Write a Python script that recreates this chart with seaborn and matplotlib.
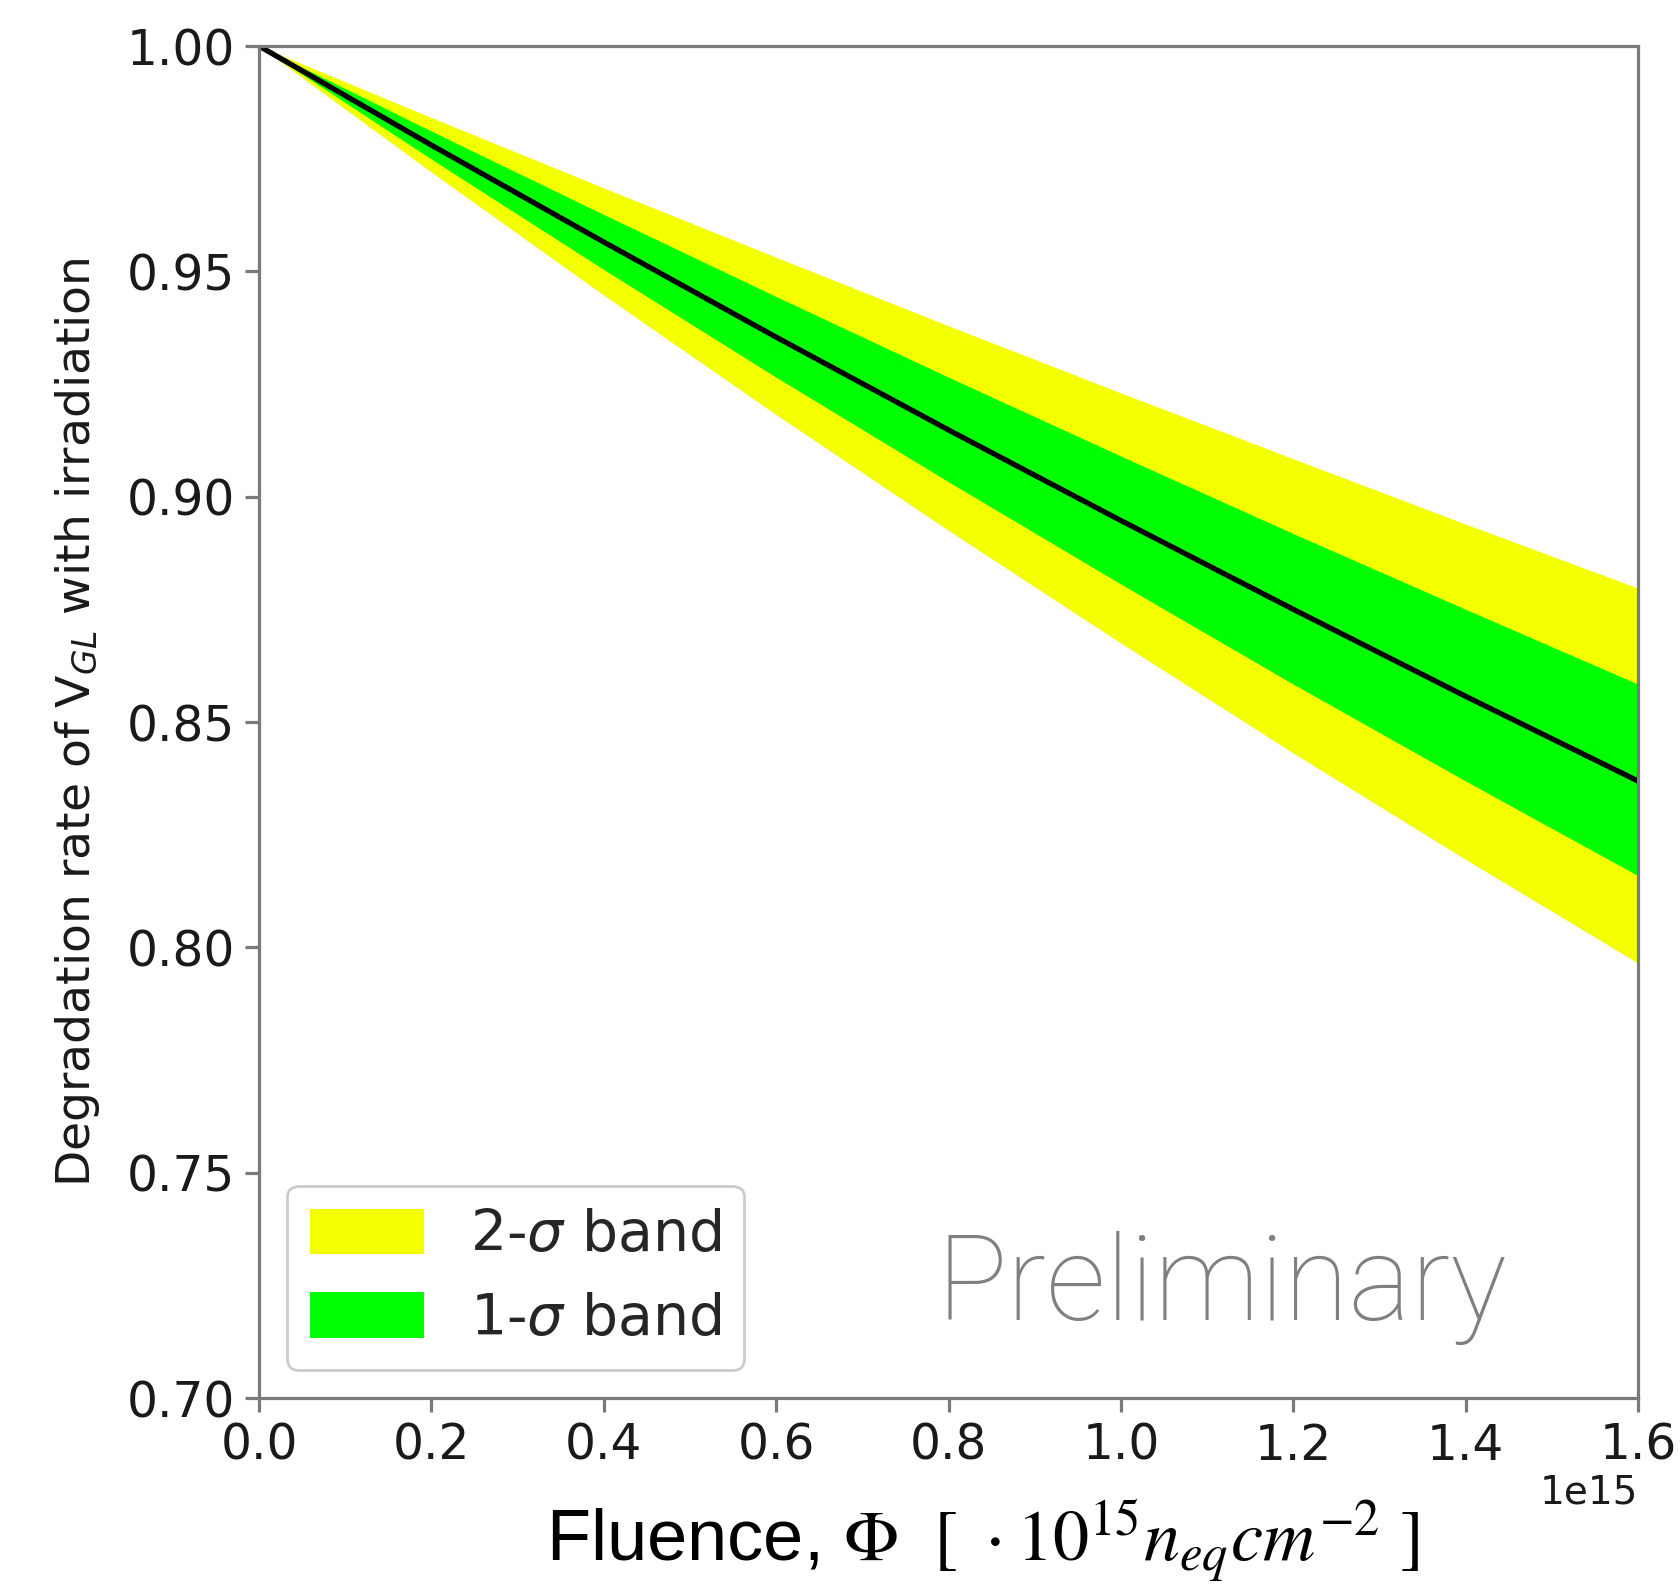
import matplotlib
matplotlib.use("Agg")
import matplotlib.pyplot as plt
import seaborn as sns

# Fluence points (n_eq / cm^2) and the fitted degradation rate of V_GL
fluence = [0.0, 0.2e15, 0.4e15, 0.6e15, 0.8e15, 1.0e15, 1.2e15, 1.4e15, 1.6e15]
central = [1.000, 0.9780, 0.9565, 0.9354, 0.9148, 0.8947, 0.8750, 0.8557, 0.8369]
one_sigma_hi = [1.000, 0.9811, 0.9626, 0.9444, 0.9265, 0.9090, 0.8918, 0.8750, 0.8584]
one_sigma_lo = [1.000, 0.9749, 0.9504, 0.9265, 0.9033, 0.8806, 0.8584, 0.8369, 0.8159]
two_sigma_hi = [1.000, 0.9841, 0.9685, 0.9531, 0.9379, 0.9230, 0.9084, 0.8939, 0.8797]
two_sigma_lo = [1.000, 0.9720, 0.9447, 0.9182, 0.8925, 0.8675, 0.8431, 0.8195, 0.7965]

x_ticks = [0.0, 0.2e15, 0.4e15, 0.6e15, 0.8e15, 1.0e15, 1.2e15, 1.4e15, 1.6e15]
y_ticks = [0.70, 0.75, 0.80, 0.85, 0.90, 0.95, 1.00]

YELLOW = "#f4ff00"
GREEN = "#00ff00"
SPINE = "#7a7a7a"

sns.set_theme(style="ticks")
plt.rcParams["font.family"] = ["DejaVu Sans"]

W, H = 1680, 1586
fig = plt.figure(figsize=(W / 100, H / 100), dpi=100)
ax = fig.add_axes([259 / W, 1 - 1398 / H, (1638 - 259) / W, (1398 - 46) / H])

ax.fill_between(fluence, two_sigma_lo, two_sigma_hi, color=YELLOW, lw=0,
                label="2-$\\sigma$ band")
ax.fill_between(fluence, one_sigma_lo, one_sigma_hi, color=GREEN, lw=0,
                label="1-$\\sigma$ band")
sns.lineplot(x=fluence, y=central, color="black", lw=3.8, ax=ax, legend=False)

ax.set_xlim(0, 1.6e15)
ax.set_ylim(0.70, 1.00)
ax.set_xticks(x_ticks)
ax.set_yticks(y_ticks)
ax.yaxis.set_major_formatter(matplotlib.ticker.FormatStrFormatter("%.2f"))

for s in ax.spines.values():
    s.set_color(SPINE)
    s.set_linewidth(2.3)
    s.set_visible(True)
ax.tick_params(axis="both", colors=SPINE, length=10, width=2.3, pad=7,
               labelsize=35, labelcolor="#1a1a1a")
ax.xaxis.get_offset_text().set_fontsize(28)
ax.xaxis.get_offset_text().set_color("#1a1a1a")

ax.set_ylabel("Degradation rate of V$_{GL}$ with irradiation", fontsize=34,
              color="#1a1a1a", labelpad=18)

ax.set_xlabel(r"Fluence, $\Phi\ \ [\ \cdot 10^{15}n_{eq}cm^{-2}\ ]$",
              fontsize=52, family="Liberation Sans", math_fontfamily="stix",
              color="black")
ax.xaxis.set_label_coords(0.525, -0.121)
ax.xaxis.label.set_va("baseline")

ax.text(0.491, 0.058, "Preliminary", transform=ax.transAxes, fontsize=85,
        color="#808080", family="Roboto", fontweight=100, va="baseline")

leg = ax.legend(loc="lower left", fontsize=41, handlelength=2.0,
                handleheight=0.85, handletextpad=0.8, frameon=True,
                fancybox=True, framealpha=1.0)
leg.get_frame().set_edgecolor("#cccccc")
leg.get_frame().set_linewidth(2.0)

fig.savefig("out.png", dpi=100)
